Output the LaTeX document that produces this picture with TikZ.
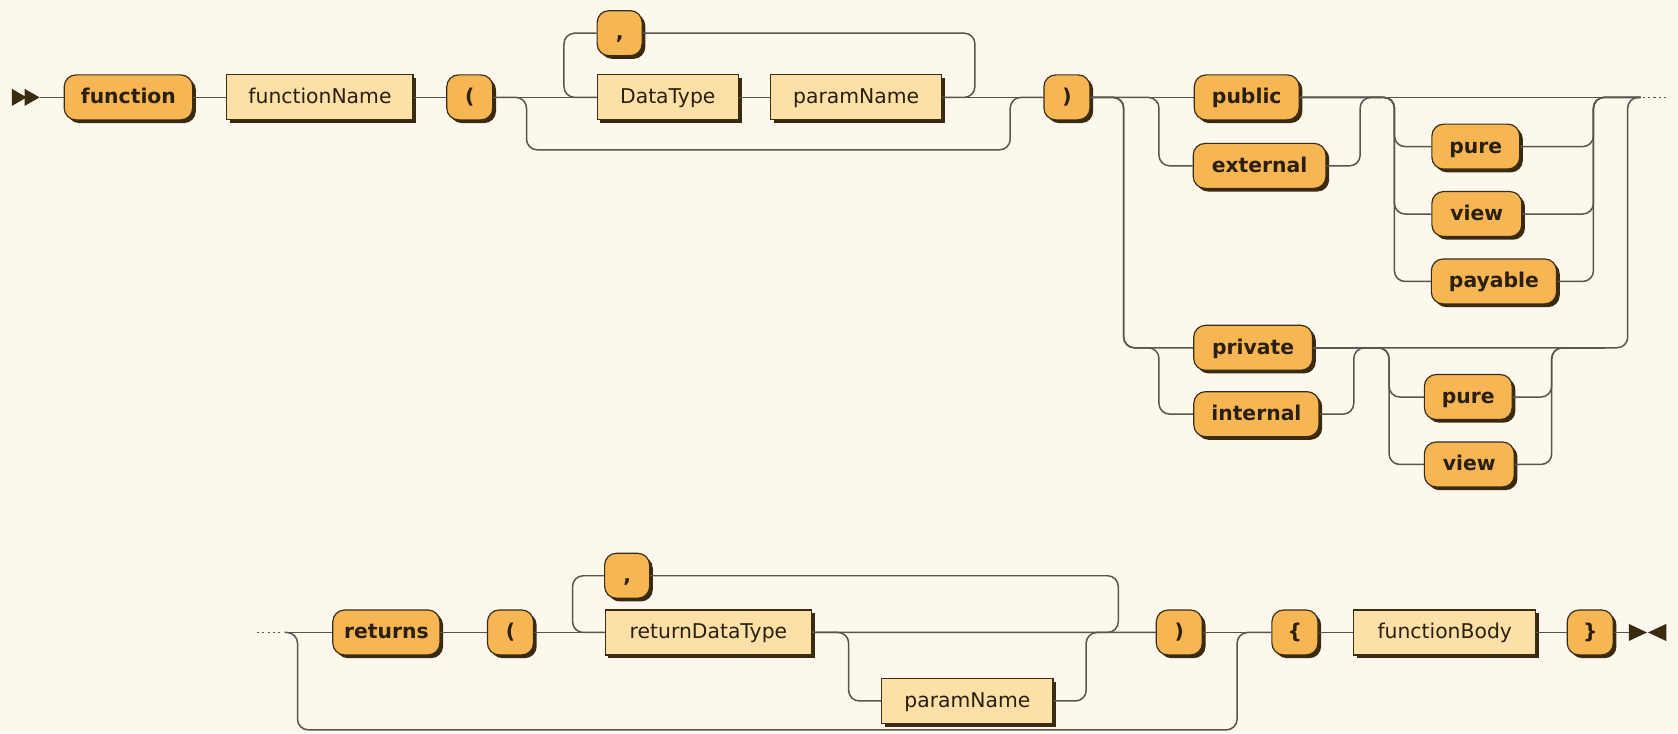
\documentclass[tikz,border=0pt]{standalone}
\usepackage{fontspec}
\setmainfont{DejaVu Sans}
\usetikzlibrary{shadows}
\definecolor{bgc}{HTML}{FCF8EE}
\definecolor{termfill}{HTML}{F6B654}
\definecolor{ntfill}{HTML}{FCE0A8}
\definecolor{edgec}{HTML}{3B2C14}
\definecolor{shadowc}{HTML}{3A2A10}
\definecolor{linec}{HTML}{5A554C}
\definecolor{textc}{HTML}{2B1F0E}
\tikzset{
  basebox/.style={draw=edgec, line width=1.1pt, inner sep=0pt, minimum height=42pt, text=textc,
    text height=14pt, text depth=2pt,
    drop shadow={shadow xshift=3pt, shadow yshift=-3pt, fill=shadowc, opacity=1}},
  term/.style={basebox, rounded corners=11pt, fill=termfill, font=\fontsize{19}{21}\selectfont\bfseries},
  nonterm/.style={basebox, fill=ntfill, font=\fontsize{19}{21}\selectfont},
  conn/.style={draw=linec, line width=1.4pt},
  rr/.style={conn, rounded corners=10pt},
  marker/.style={fill=shadowc, draw=none},
  dots/.style={draw=linec, line width=1.4pt, dash pattern=on 2pt off 3pt}
}
\begin{document}
\begin{tikzpicture}[x=1pt,y=-1pt]
\fill[bgc] (0,0) rectangle (1568,685);
\useasboundingbox (0,0) rectangle (1568,685);

% ---------- row 1 nodes ----------
\node[term, minimum width=120pt] (fn) at (120,91) {function};
\node[nonterm, minimum width=174pt] (fname) at (299,91) {functionName};
\node[term, minimum width=43pt] (lpa) at (439,91) {(};
\node[term, minimum width=42pt] (ca) at (579,31) {,};
\node[nonterm, minimum width=132pt] (dt) at (624,91) {DataType};
\node[nonterm, minimum width=160pt] (pna) at (800,91) {paramName};
\node[term, minimum width=43pt] (rpa) at (997,91) {)};
\node[term, minimum width=98pt] (pub) at (1165,91) {public};
\node[term, minimum width=124pt] (ext) at (1177,155) {external};
\node[term, minimum width=82pt] (pureA) at (1379,137) {pure};
\node[term, minimum width=84pt] (viewA) at (1380,200) {view};
\node[term, minimum width=117pt] (pay) at (1396,263) {payable};
\node[term, minimum width=111pt] (priv) at (1171,325) {private};
\node[term, minimum width=117pt] (int) at (1174,387) {internal};
\node[term, minimum width=82pt] (pureB) at (1372,371) {pure};
\node[term, minimum width=84pt] (viewB) at (1373,434) {view};

% ---------- row 2 nodes ----------
\node[term, minimum width=100pt] (ret) at (361,591) {returns};
\node[term, minimum width=43pt] (lpb) at (477,591) {(};
\node[term, minimum width=42pt] (cb) at (586,538) {,};
\node[nonterm, minimum width=193pt] (rdt) at (662,591) {returnDataType};
\node[nonterm, minimum width=160pt] (pnb) at (904,655) {paramName};
\node[term, minimum width=43pt] (rpb) at (1102,591) {)};
\node[term, minimum width=43pt] (lbr) at (1210,591) {\{};
\node[nonterm, minimum width=170pt] (fb) at (1350,591) {functionBody};
\node[term, minimum width=43pt] (rbr) at (1486,591) {\}};

% ---------- markers ----------
\coordinate (startA) at (37,91);
\fill[marker] (11,83) -- (25,91) -- (11,99) -- cycle;
\fill[marker] (23,83) -- (37,91) -- (23,99) -- cycle;
\coordinate (endA) at (1533,91);
\draw[dots] (1535,91) -- (1560,91);
\coordinate (startB) at (266,591);
\draw[dots] (240,591) -- (264,591);
\coordinate (endB) at (1522,591);
\fill[marker] (1522,583) -- (1539,591) -- (1522,599) -- cycle;
\fill[marker] (1557,583) -- (1540,591) -- (1557,599) -- cycle;

% ---------- row 1 connectors ----------
\draw[conn] (startA) -- (fn.west);
\draw[conn] (fn.east) -- (fname.west);
\draw[conn] (fname.east) -- (lpa.west);
\draw[conn] (lpa.east) -- (dt.west);
\draw[conn] (dt.east) -- (pna.west);
\draw[conn] (pna.east) -- (rpa.west);
\draw[rr] (ca.west) -- (527,31) -- (527,91) -- (dt.west);
\draw[rr] (pna.east) -- (911,91) -- (911,31) -- (ca.east);
\draw[rr] (lpa.east) -- (492,91) -- (492,140) -- (944,140) -- (944,91) -- (rpa.west);

\draw[conn] (rpa.east) -- (pub.west);
\draw[rr] (rpa.east) -- (1083,91) -- (1083,155) -- (ext.west);
\draw[rr] (rpa.east) -- (1050,91) -- (1050,325) -- (priv.west);
\draw[rr] (rpa.east) -- (1050,91) -- (1050,325) -- (1083,325) -- (1083,387) -- (int.west);
\draw[conn] (pub.east) -- (endA);
\draw[rr] (ext.east) -- (1271,155) -- (1271,91) -- (1292,91);
\draw[rr] (pub.east) -- (1303,91) -- (1303,137) -- (pureA.west);
\draw[rr] (pub.east) -- (1303,91) -- (1303,200) -- (viewA.west);
\draw[rr] (pub.east) -- (1303,91) -- (1303,263) -- (pay.west);
\draw[rr] (pureA.east) -- (1489,137) -- (1489,91) -- (endA);
\draw[rr] (viewA.east) -- (1489,200) -- (1489,91) -- (endA);
\draw[rr] (pay.east) -- (1489,263) -- (1489,91) -- (endA);

\draw[rr] (priv.east) -- (1521,325) -- (1521,91) -- (endA);
\draw[rr] (int.east) -- (1265,387) -- (1265,325) -- (1286,325);
\draw[rr] (priv.east) -- (1298,325) -- (1298,371) -- (pureB.west);
\draw[rr] (priv.east) -- (1298,325) -- (1298,434) -- (viewB.west);
\draw[rr] (pureB.east) -- (1450,371) -- (1450,325) -- (1500,325);
\draw[rr] (viewB.east) -- (1450,434) -- (1450,325) -- (1500,325);

% ---------- row 2 connectors ----------
\draw[conn] (startB) -- (ret.west);
\draw[conn] (ret.east) -- (lpb.west);
\draw[conn] (lpb.east) -- (rdt.west);
\draw[conn] (rdt.east) -- (rpb.west);
\draw[rr] (cb.west) -- (535,538) -- (535,591) -- (rdt.west);
\draw[rr] (rdt.east) -- (1045,591) -- (1045,538) -- (cb.east);
\draw[rr] (rdt.east) -- (793,591) -- (793,655) -- (pnb.west);
\draw[rr] (pnb.east) -- (1015,655) -- (1015,591) -- (rpb.west);
\draw[rr] (startB) -- (278,591) -- (278,682) -- (1156,682) -- (1156,591) -- (lbr.west);
\draw[conn] (rpb.east) -- (lbr.west);
\draw[conn] (lbr.east) -- (fb.west);
\draw[conn] (fb.east) -- (rbr.west);
\draw[conn] (rbr.east) -- (endB);
\end{tikzpicture}
\end{document}
